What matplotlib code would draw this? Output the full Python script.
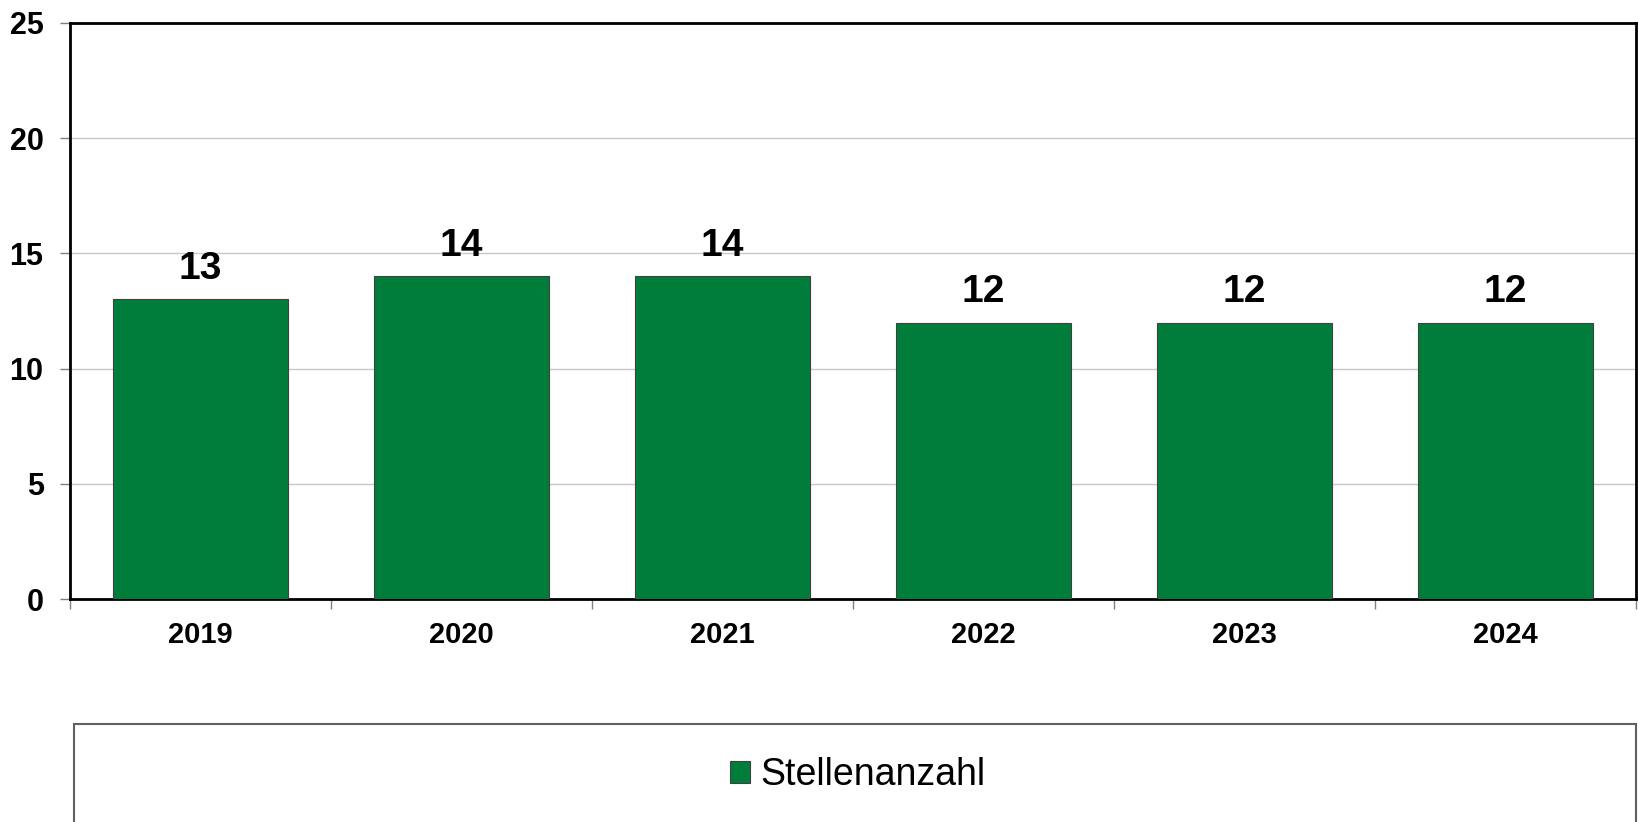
import matplotlib
matplotlib.use("Agg")
import matplotlib.pyplot as plt
from matplotlib.patches import Rectangle

years = ["2019", "2020", "2021", "2022", "2023", "2024"]
values = [13, 14, 14, 12, 12, 12]
yticks = [0, 5, 10, 15, 20, 25]
series_name = "Stellenanzahl"

plt.rcParams['font.family'] = ['Liberation Sans', 'DejaVu Sans']

W, H = 1640, 822
fig = plt.figure(figsize=(W/100, H/100), dpi=100)
ax = fig.add_axes([70/W, 1-599/H, (1636-70)/W, (599-23)/H])

green = "#007D3A"
x = list(range(len(years)))
bars = ax.bar(x, values, width=0.667, color=green, edgecolor="#404040", linewidth=0.8,
              zorder=3, label=series_name)
for xi, v in zip(x, values):
    ax.annotate(str(v), (xi, v), xytext=(0, 9), textcoords="offset points",
                ha="center", va="bottom", fontsize=28, fontweight="bold", zorder=4)

ax.set_xlim(-0.5, len(years) - 0.5)
ax.set_ylim(0, 25)
ax.set_yticks(yticks)
ax.set_yticklabels([str(t) for t in yticks], fontsize=22, fontweight="bold")
ax.set_xticks([i - 0.5 for i in range(len(years) + 1)], minor=False)
ax.set_xticklabels([])
ax.set_xticks(x, minor=True)
ax.set_xticklabels(years, minor=True, fontsize=21, fontweight="bold")
ax.tick_params(axis="x", which="major", direction="out", length=7, width=1, color="#808080")
ax.tick_params(axis="x", which="minor", length=0, pad=16)
ax.tick_params(axis="y", direction="out", length=7, width=1, color="#808080", pad=12)
ax.yaxis.grid(True, color="#c8c8c8", linewidth=1, zorder=0)
for s in ax.spines.values():
    s.set_color("black")
    s.set_linewidth(2)

# legend frame
fig.patches.append(Rectangle((74/W, -0.01), (1636-74)/W, (822-724)/H + 0.01,
                             transform=fig.transFigure, fill=False,
                             edgecolor="#606060", linewidth=1.5))
leg = fig.legend(handles=[bars], labels=[series_name], loc="center",
                 bbox_to_anchor=(858/W, 1-775/H), frameon=False, fontsize=27,
                 handlelength=0.52, handleheight=0.52, handletextpad=0.3)

fig.savefig("out.png", dpi=100)
